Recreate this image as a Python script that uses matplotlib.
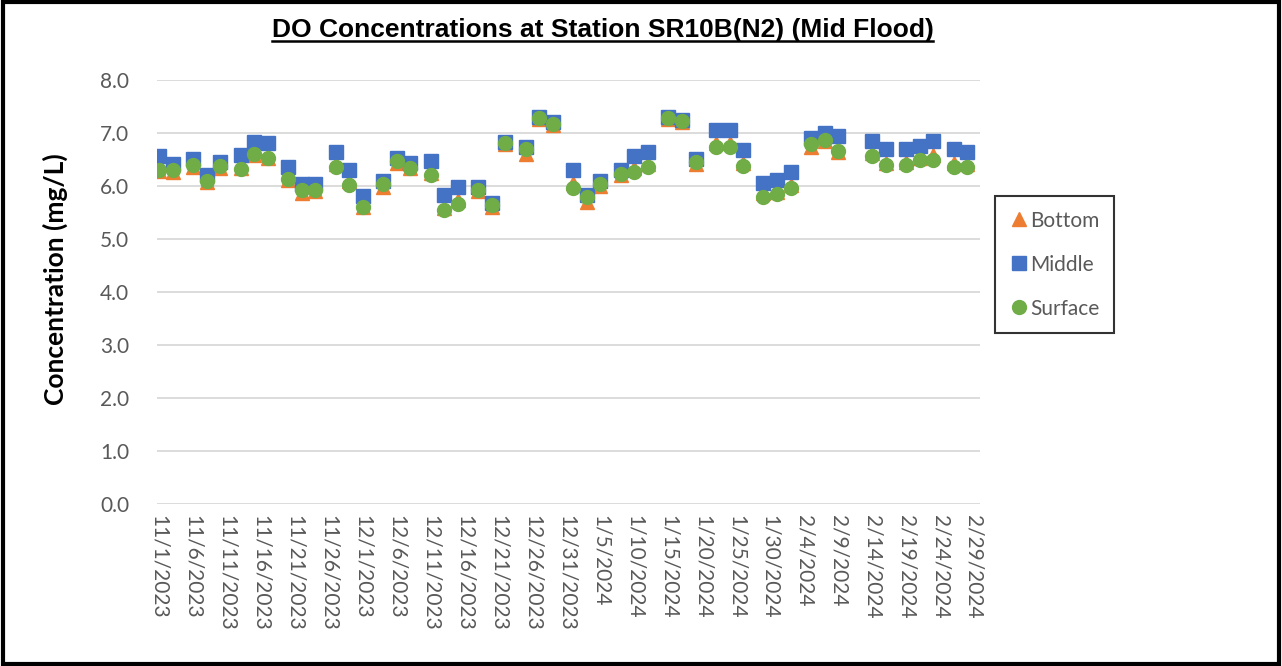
import datetime as dt
import matplotlib
matplotlib.use("Agg")
import matplotlib.pyplot as plt
from matplotlib.lines import Line2D
from matplotlib.patches import Rectangle

# dates of sampling (Mon/Wed/Fri), Nov 2023 - Feb 2024
dates = ["2023-11-01", "2023-11-03", "2023-11-06", "2023-11-08", "2023-11-10",
         "2023-11-13", "2023-11-15", "2023-11-17", "2023-11-20", "2023-11-22",
         "2023-11-24", "2023-11-27", "2023-11-29", "2023-12-01", "2023-12-04",
         "2023-12-06", "2023-12-08", "2023-12-11", "2023-12-13", "2023-12-15",
         "2023-12-18", "2023-12-20", "2023-12-22", "2023-12-25", "2023-12-27",
         "2023-12-29", "2024-01-01", "2024-01-03", "2024-01-05", "2024-01-08",
         "2024-01-10", "2024-01-12", "2024-01-15", "2024-01-17", "2024-01-19",
         "2024-01-22", "2024-01-24", "2024-01-26", "2024-01-29", "2024-01-31",
         "2024-02-02", "2024-02-05", "2024-02-07", "2024-02-09", "2024-02-14",
         "2024-02-16", "2024-02-19", "2024-02-21", "2024-02-23", "2024-02-26",
         "2024-02-28"]

middle = [6.55, 6.41, 6.50, 6.20, 6.45, 6.58, 6.83, 6.80, 6.35, 6.03,
          6.03, 6.63, 6.30, 5.81, 6.09, 6.52, 6.42, 6.47, 5.82, 5.98,
          5.98, 5.67, 6.83, 6.72, 7.30, 7.20, 6.30, 5.82, 6.08, 6.30,
          6.56, 6.64, 7.30, 7.24, 6.50, 7.04, 7.04, 6.67, 6.05, 6.11,
          6.25, 6.89, 6.99, 6.94, 6.85, 6.69, 6.69, 6.75, 6.84, 6.69,
          6.64]
surface = [6.30, 6.29, 6.38, 6.09, 6.37, 6.32, 6.59, 6.52, 6.13, 5.91,
           5.92, 6.35, 6.02, 5.60, 6.03, 6.47, 6.33, 6.20, 5.54, 5.65,
           5.92, 5.64, 6.80, 6.69, 7.27, 7.16, 5.95, 5.78, 6.04, 6.22,
           6.26, 6.35, 7.27, 7.21, 6.45, 6.72, 6.72, 6.37, 5.78, 5.84,
           5.95, 6.78, 6.86, 6.66, 6.56, 6.38, 6.38, 6.48, 6.48, 6.36,
           6.35]
bottom = [6.28, 6.26, 6.35, 6.06, 6.34, 6.33, 6.58, 6.53, 6.11, 5.87,
          5.89, 6.40, 6.08, 5.60, 5.98, 6.43, 6.34, 6.23, 5.57, 5.73,
          5.90, 5.60, 6.79, 6.60, 7.26, 7.15, 6.05, 5.70, 6.00, 6.20,
          6.33, 6.40, 7.26, 7.20, 6.40, 6.80, 6.80, 6.43, 5.86, 5.88,
          6.01, 6.73, 6.84, 6.64, 6.61, 6.43, 6.45, 6.52, 6.58, 6.42,
          6.41]

x = [dt.datetime.strptime(d, "%Y-%m-%d") for d in dates]

fig = plt.figure(figsize=(12.82, 6.66), dpi=100)
ax = fig.add_axes([0.1225, 0.2432, 0.642, 0.6374])

ax.plot(x, bottom, ls="none", marker="^", ms=10, color="#ED7D31", label="Bottom", zorder=3)
ax.plot(x, middle, ls="none", marker="s", ms=10.5, color="#4472C4", label="Middle", zorder=4)
ax.plot(x, surface, ls="none", marker="o", ms=10, color="#70AD47", label="Surface", zorder=5)

# оси
start = dt.datetime(2023, 11, 1)
ax.set_xlim(start - dt.timedelta(days=0.3), dt.datetime(2024, 2, 29) + dt.timedelta(days=0.9))
ax.set_ylim(0, 8)
ax.set_yticks([i * 1.0 for i in range(9)])
ax.yaxis.set_major_formatter(plt.FormatStrFormatter("%.1f"))
ticks = [start + dt.timedelta(days=5 * i) for i in range(25)]
ax.set_xticks(ticks)
ax.set_xticklabels([f"{t.month}/{t.day}/{t.year}" for t in ticks], rotation=270,
                   ha="center", va="top")
ax.tick_params(length=0, labelsize=15, labelcolor="#595959")
ax.tick_params(axis="x", pad=8)
ax.tick_params(axis="y", pad=20)
for lab in ax.get_xticklabels() + ax.get_yticklabels():
    lab.set_family("Lato")
for s in ax.spines.values():
    s.set_visible(False)
ax.grid(axis="y", color="#D9D9D9", lw=1.3)
ax.set_axisbelow(True)
ax.set_ylabel("Concentration (mg/L)", fontsize=19, fontweight="bold", family="Lato")
ax.yaxis.set_label_coords(-0.108, 0.53)

leg = ax.legend(loc="upper left", bbox_to_anchor=(0.7762, 0.7057), bbox_transform=fig.transFigure,
                frameon=True, fancybox=False, edgecolor="black", prop={"family": "Lato", "size": 15},
                handletextpad=0.1, handlelength=0.9, labelspacing=1.15, borderpad=0.7,
                borderaxespad=0, handleheight=0.7)
leg.get_frame().set_linewidth(1.5)
for t in leg.get_texts():
    t.set_color("#595959")

# заголовок с подчёркиванием
title = fig.text(0.47, 0.955, "DO Concentrations at Station SR10B(N2) (Mid Flood)", ha="center",
                 va="center", fontsize=19, fontweight="bold", family="Liberation Sans")
fig.canvas.draw()
bb = title.get_window_extent(fig.canvas.get_renderer()).transformed(fig.transFigure.inverted())
fig.add_artist(Line2D([bb.x0, bb.x1], [bb.y0 + 0.002, bb.y0 + 0.002], color="black", lw=1.8,
                      transform=fig.transFigure))

# рамка вокруг картинки
fig.add_artist(Rectangle((0.002, 0.003), 0.996, 0.994, fill=False, edgecolor="black", lw=3,
                         transform=fig.transFigure))

fig.savefig("out.png", dpi=100)
